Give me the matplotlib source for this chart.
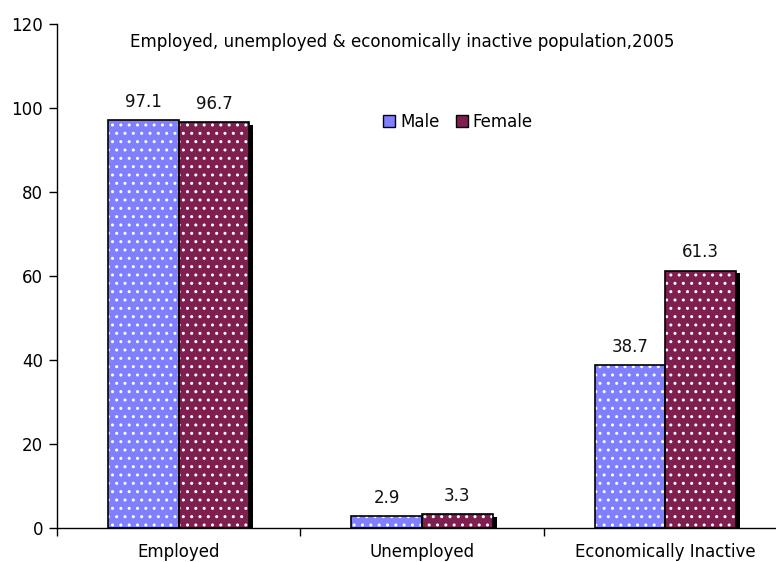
import matplotlib
matplotlib.use("Agg")
import matplotlib.pyplot as plt
import matplotlib.patheffects as pe
from matplotlib.patches import Patch
import numpy as np

categories = ["Employed", "Unemployed", "Economically Inactive"]
male = [97.1, 2.9, 38.7]
female = [96.7, 3.3, 61.3]
yticks = [0, 20, 40, 60, 80, 100, 120]
title = "Employed, unemployed & economically inactive population,2005"

plt.rcParams['font.family'] = ['DejaVu Sans']
plt.rcParams['hatch.linewidth'] = 1.0

fig = plt.figure(figsize=(7.76, 5.62), dpi=100)
ax = fig.add_axes([57/776, 34/562, 730/776, 504/562])

x = np.arange(len(categories))
w = 0.29
male_c = "#8080FF"
female_c = "#7F1F50"
fs = 12

ax.bar(x - w/2, male, w, color=male_c, edgecolor="white", hatch="..", linewidth=0, zorder=2)
ax.bar(x + w/2, female, w, color=female_c, edgecolor="white", hatch="..", linewidth=0, zorder=2)
ax.bar(x + w/2, female, w, color="black", linewidth=0, zorder=1,
       path_effects=[pe.SimplePatchShadow(offset=(3, -2), shadow_rgbFace="black", alpha=1.0), pe.Normal()])
ax.bar(x - w/2, male, w, fill=False, edgecolor="black", linewidth=1.2, zorder=3)
ax.bar(x + w/2, female, w, fill=False, edgecolor="black", linewidth=1.2, zorder=3)

for xi, v in zip(x - w/2, male):
    ax.text(xi, v + 2.2, f"{v}", ha="center", va="bottom", fontsize=fs, color="#111111")
for xi, v in zip(x + w/2, female):
    ax.text(xi, v + 2.2, f"{v}", ha="center", va="bottom", fontsize=fs, color="#111111")

ax.set_xlim(-0.5, 2.5)
ax.set_ylim(0, 120)
ax.set_yticks(yticks)
ax.set_yticklabels([str(t) for t in yticks], fontsize=fs)
ax.set_xticks(x)
ax.set_xticklabels(categories, fontsize=fs)
ax.tick_params(axis="x", which="major", length=0, pad=11)
ax.set_xticks([-0.5, 0.5, 1.5, 2.5], minor=True)
ax.tick_params(axis="x", which="minor", length=6, direction="out", width=1)
ax.tick_params(axis="y", length=6, direction="out", width=1, pad=4)
for s in ["top", "right"]:
    ax.spines[s].set_visible(False)
ax.spines["left"].set_linewidth(1)
ax.spines["bottom"].set_linewidth(1)

fig.text(402/776, 1 - 42/562, title, ha="center", va="center", fontsize=12.1)

handles = [Patch(facecolor=male_c, edgecolor="black", label="Male"),
           Patch(facecolor=female_c, edgecolor="black", label="Female")]
fig.legend(handles=handles, loc="center", bbox_to_anchor=(458/776, 1 - 122/562), ncol=2,
           frameon=False, fontsize=fs, handlelength=0.7, handleheight=0.7,
           handletextpad=0.3, columnspacing=1.0)

fig.savefig("out.png", dpi=100)
